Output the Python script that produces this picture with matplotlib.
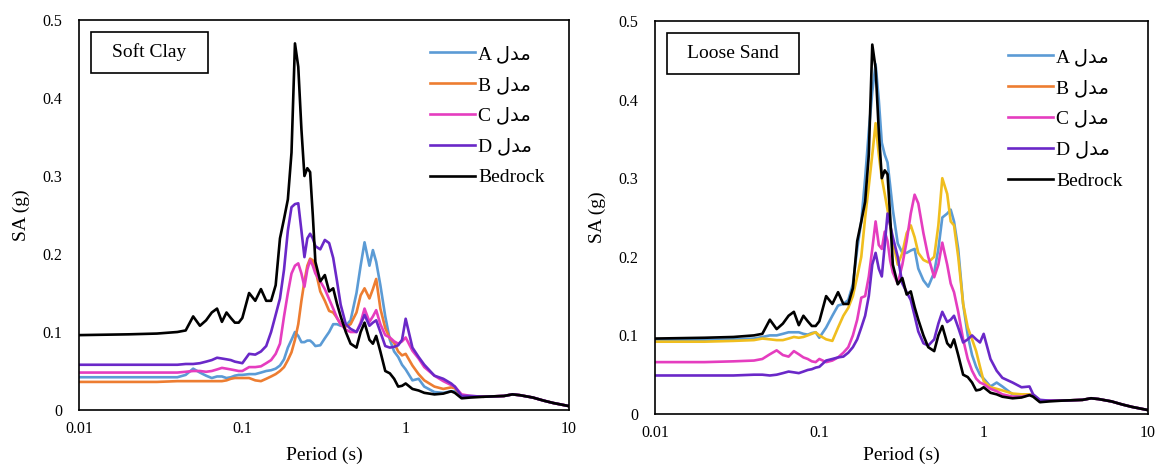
import matplotlib
matplotlib.use("Agg")
from matplotlib import pyplot as plt
from matplotlib.patches import Rectangle
from matplotlib.ticker import FixedLocator, FixedFormatter, NullLocator

plt.rcParams['font.family'] = ['Liberation Serif', 'DejaVu Sans']

periods = [
    0.01, 0.02, 0.03, 0.04, 0.045,
    0.05, 0.055, 0.06, 0.065, 0.07,
    0.075, 0.08, 0.085, 0.09, 0.095,
    0.1, 0.11, 0.12, 0.13, 0.14,
    0.15, 0.16, 0.17, 0.18, 0.19,
    0.2, 0.21, 0.22, 0.23, 0.24,
    0.25, 0.26, 0.27, 0.28, 0.3,
    0.32, 0.34, 0.36, 0.38, 0.4,
    0.43, 0.46, 0.5, 0.53, 0.56,
    0.6, 0.63, 0.66, 0.7, 0.75,
    0.8, 0.85, 0.9, 0.95, 1.0,
    1.1, 1.2, 1.3, 1.5, 1.7,
    1.9, 2.0, 2.2, 2.5, 3.0,
    4.0, 4.5, 5.0, 6.0, 7.0,
    8.0, 10.0]

# bedrock input motion (same in both panels)
bedrock = [
    0.096, 0.097, 0.098, 0.1, 0.102,
    0.12, 0.108, 0.115, 0.125, 0.13,
    0.113, 0.125, 0.118, 0.112, 0.112,
    0.118, 0.15, 0.14, 0.155, 0.14,
    0.14, 0.16, 0.22, 0.245, 0.27,
    0.33, 0.47, 0.44, 0.36, 0.30,
    0.31, 0.305, 0.25, 0.19, 0.165,
    0.173, 0.152, 0.156, 0.136, 0.12,
    0.1, 0.085, 0.08, 0.1, 0.112,
    0.09, 0.085, 0.095, 0.075, 0.05,
    0.047, 0.04, 0.03, 0.031, 0.034,
    0.027, 0.025, 0.022, 0.02, 0.021,
    0.024, 0.022, 0.015, 0.016, 0.017,
    0.018, 0.02, 0.019, 0.016, 0.012,
    0.009, 0.005]

# soft clay
clay_a = [
    0.042, 0.042, 0.042, 0.042, 0.045,
    0.053, 0.048, 0.044, 0.041, 0.043,
    0.043, 0.041, 0.042, 0.044, 0.045,
    0.045, 0.046, 0.046, 0.048, 0.05,
    0.051, 0.053, 0.057, 0.065, 0.08,
    0.09, 0.1, 0.095, 0.087, 0.087,
    0.089, 0.089, 0.086, 0.082, 0.083,
    0.092, 0.1, 0.11, 0.11, 0.108,
    0.108, 0.115, 0.15, 0.185, 0.215,
    0.185, 0.205, 0.19, 0.16, 0.12,
    0.09, 0.075, 0.068, 0.058, 0.052,
    0.038, 0.04, 0.03, 0.023, 0.022,
    0.024, 0.024, 0.016, 0.017, 0.017,
    0.018, 0.02, 0.019, 0.016, 0.012,
    0.009, 0.005]

clay_b = [
    0.036, 0.036, 0.036, 0.037, 0.037,
    0.037, 0.037, 0.037, 0.037, 0.037,
    0.037, 0.038, 0.04, 0.041, 0.041,
    0.041, 0.041, 0.038, 0.037, 0.04,
    0.043, 0.046, 0.05, 0.055, 0.064,
    0.074, 0.09, 0.11, 0.14, 0.165,
    0.185, 0.194, 0.192, 0.18, 0.152,
    0.14, 0.127, 0.125, 0.118, 0.11,
    0.107, 0.11, 0.125, 0.147, 0.156,
    0.143, 0.155, 0.168, 0.13, 0.105,
    0.092, 0.086, 0.075, 0.07, 0.072,
    0.057, 0.046, 0.038, 0.03, 0.027,
    0.029, 0.028, 0.018, 0.017, 0.017,
    0.018, 0.02, 0.019, 0.016, 0.012,
    0.009, 0.005]

clay_c = [
    0.048, 0.048, 0.048, 0.048, 0.049,
    0.05, 0.05, 0.049, 0.05, 0.052,
    0.054, 0.053, 0.052, 0.051, 0.05,
    0.05, 0.055, 0.055, 0.056, 0.06,
    0.064, 0.072, 0.085, 0.12, 0.15,
    0.175, 0.185, 0.188, 0.175, 0.158,
    0.18, 0.192, 0.185, 0.175, 0.165,
    0.155, 0.142, 0.13, 0.118, 0.11,
    0.103, 0.1, 0.1, 0.112, 0.13,
    0.113, 0.12, 0.128, 0.11, 0.096,
    0.093, 0.088, 0.085, 0.088, 0.093,
    0.076, 0.066, 0.055, 0.044, 0.037,
    0.032, 0.03, 0.02, 0.018, 0.017,
    0.018, 0.02, 0.019, 0.016, 0.012,
    0.009, 0.005]

clay_d = [
    0.058, 0.058, 0.058, 0.058, 0.059,
    0.059, 0.06, 0.062, 0.064, 0.067,
    0.066, 0.065, 0.064, 0.062, 0.061,
    0.06, 0.072, 0.071, 0.075, 0.082,
    0.1, 0.122, 0.143, 0.18, 0.23,
    0.26, 0.264, 0.265, 0.23, 0.196,
    0.22, 0.226, 0.22, 0.21, 0.206,
    0.218, 0.214, 0.195, 0.165, 0.135,
    0.11, 0.104, 0.1, 0.11, 0.122,
    0.108, 0.112, 0.115, 0.1, 0.082,
    0.08, 0.081, 0.083, 0.09, 0.117,
    0.08, 0.068, 0.058, 0.044, 0.04,
    0.034, 0.03, 0.018, 0.018, 0.017,
    0.018, 0.02, 0.019, 0.016, 0.012,
    0.009, 0.005]

# loose sand
sand_a = [
    0.094, 0.094, 0.095, 0.096, 0.098,
    0.1, 0.1, 0.102, 0.104, 0.104,
    0.104, 0.102, 0.101, 0.103, 0.104,
    0.097, 0.11, 0.125, 0.138, 0.14,
    0.145, 0.165, 0.21, 0.245, 0.3,
    0.36, 0.41, 0.445, 0.4, 0.345,
    0.33, 0.32, 0.29, 0.26, 0.217,
    0.205, 0.205, 0.208, 0.21, 0.185,
    0.17, 0.162, 0.18, 0.21, 0.25,
    0.255, 0.26, 0.245, 0.21, 0.14,
    0.1, 0.075, 0.06, 0.05, 0.045,
    0.035, 0.04, 0.035, 0.025, 0.024,
    0.025, 0.024, 0.016, 0.017, 0.017,
    0.018, 0.02, 0.019, 0.016, 0.012,
    0.009, 0.005]

sand_b = [
    0.092, 0.092, 0.093, 0.094, 0.096,
    0.095, 0.094, 0.094, 0.096, 0.098,
    0.097, 0.098, 0.1, 0.102, 0.104,
    0.1, 0.095, 0.093, 0.11, 0.125,
    0.135, 0.15, 0.175, 0.2, 0.25,
    0.29, 0.33, 0.37, 0.33, 0.3,
    0.28, 0.26, 0.24, 0.22, 0.19,
    0.205, 0.23, 0.24, 0.225, 0.205,
    0.196, 0.193, 0.2, 0.24, 0.3,
    0.28, 0.245, 0.24, 0.2, 0.14,
    0.11, 0.095, 0.08, 0.06, 0.042,
    0.034, 0.032, 0.03, 0.026, 0.025,
    0.025, 0.024, 0.016, 0.017, 0.017,
    0.018, 0.02, 0.019, 0.016, 0.012,
    0.009, 0.005]

sand_c = [
    0.066, 0.066, 0.067, 0.068, 0.07,
    0.076, 0.081, 0.075, 0.073, 0.08,
    0.076, 0.072, 0.07, 0.067, 0.066,
    0.07, 0.066, 0.068, 0.072, 0.078,
    0.085, 0.1, 0.12, 0.148, 0.15,
    0.175, 0.21, 0.245, 0.215, 0.21,
    0.232, 0.22, 0.195, 0.18, 0.166,
    0.19, 0.22, 0.255, 0.279, 0.268,
    0.23, 0.2, 0.174, 0.19, 0.218,
    0.19, 0.166, 0.155, 0.13, 0.095,
    0.07, 0.055, 0.045, 0.04, 0.038,
    0.032, 0.029, 0.025, 0.022, 0.022,
    0.024, 0.024, 0.016, 0.017, 0.017,
    0.018, 0.02, 0.019, 0.016, 0.012,
    0.009, 0.005]

sand_d = [
    0.049, 0.049, 0.049, 0.05, 0.05,
    0.049, 0.05, 0.052, 0.054, 0.053,
    0.052, 0.054, 0.056, 0.057, 0.059,
    0.06, 0.068, 0.07, 0.072, 0.073,
    0.078, 0.085, 0.095, 0.11, 0.125,
    0.15, 0.19, 0.205, 0.185, 0.175,
    0.215, 0.255, 0.24, 0.225, 0.2,
    0.166, 0.155, 0.145, 0.125, 0.105,
    0.09, 0.087, 0.095, 0.115, 0.13,
    0.117, 0.12, 0.125, 0.11, 0.091,
    0.095, 0.1, 0.095, 0.091, 0.102,
    0.07, 0.055, 0.046, 0.04, 0.034,
    0.035, 0.025, 0.018, 0.017, 0.017,
    0.018, 0.02, 0.019, 0.016, 0.012,
    0.009, 0.005]

model = "\uFEDD\uFEAA\uFEE3"   # "مدل" in display order
labels = ["A " + model, "B " + model, "C " + model, "D " + model, "Bedrock"]
legend_colors = ['#5B9BD5', '#ED7D31', '#E53DBF', '#6A28C8', 'black']
sand_colors = ['#5B9BD5', '#F0BE1E', '#E53DBF', '#6A28C8', 'black']

panels = [
    ("Soft Clay", [clay_a, clay_b, clay_c, clay_d, bedrock], legend_colors,
     [79 / 1157, 55 / 465, 490 / 1157, 390 / 465], 0.96, -0.095),
    ("Loose Sand", [sand_a, sand_b, sand_c, sand_d, bedrock], sand_colors,
     [655 / 1157, 51 / 465, 493 / 1157, 393 / 465], 0.955, -0.083),
]

fig = plt.figure(figsize=(11.57, 4.65), dpi=100)

for title, series, colors, rect, leg_top, xlab_y in panels:
    ax = fig.add_axes(rect)
    for vals, c, lab in zip(series, colors, labels):
        ax.plot(periods, vals, color=c, lw=1.9, label=lab)
    ax.set_xscale('log')
    ax.set_xlim(0.01, 10)
    ax.set_ylim(0, 0.5)
    ax.xaxis.set_major_locator(FixedLocator([0.01, 0.1, 1, 10]))
    ax.xaxis.set_major_formatter(FixedFormatter(['0.01', '0.1', '1', '10']))
    ax.xaxis.set_minor_locator(NullLocator())
    ax.set_yticks([0, 0.1, 0.2, 0.3, 0.4, 0.5])
    ax.set_yticklabels(['0', '0.1', '0.2', '0.3', '0.4', '0.5'])
    ax.tick_params(length=0, labelsize=11.5)
    ax.tick_params(axis='x', pad=8)
    ax.tick_params(axis='y', pad=12)
    for sp in ax.spines.values():
        sp.set_linewidth(1.2)
    ax.set_xlabel('Period (s)', fontsize=14)
    ax.set_ylabel('SA (g)', fontsize=14)
    ax.xaxis.set_label_coords(0.5, xlab_y)
    ax.yaxis.set_label_coords(-0.1, 0.5)

    # boxed soil label
    bw = 117 if title == "Soft Clay" else 132
    w = bw / (rect[2] * 1157)
    h = 41 / (rect[3] * 465)
    x0 = 12 / (rect[2] * 1157)
    y0 = 1 - 12 / (rect[3] * 465) - h
    ax.add_patch(Rectangle((x0, y0), w, h, transform=ax.transAxes,
                           fill=False, lw=1.2, ec='black'))
    ax.text(x0 + w / 2, y0 + h / 2, title, transform=ax.transAxes,
            ha='center', va='center', fontsize=14)

    leg = ax.legend(loc='upper left', bbox_to_anchor=(0.697, leg_top),
                    frameon=False, fontsize=14, handlelength=2.3,
                    handletextpad=0.15, labelspacing=0.68, borderpad=0)
    for hl, c in zip(leg.get_lines(), legend_colors):
        hl.set_color(c)
        hl.set_linewidth(1.9)

fig.savefig('out.png', dpi=100)
